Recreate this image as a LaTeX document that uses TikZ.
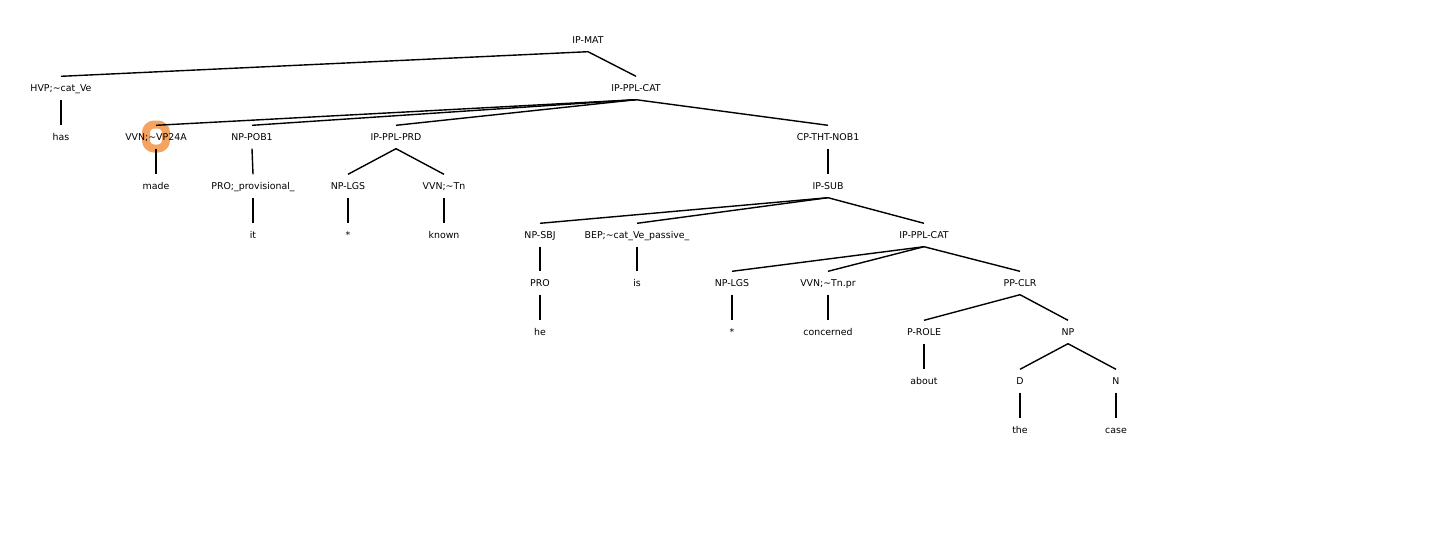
\documentclass[tikz,border=0pt]{standalone}
\usepackage{fontspec}
\setmainfont{DejaVu Sans}
\definecolor{hlorange}{RGB}{244,164,96}
\newcommand{\tl}{\textasciitilde}
\begin{document}
\begin{tikzpicture}[x=1pt, y=-1pt, line join=round,
	lab/.style={font=\fontsize{9.4}{11}\selectfont, inner sep=0pt, text height=8pt, text depth=1pt, minimum height=23pt},
	edge/.style={line width=1.4pt}]
	\useasboundingbox (0,0) rectangle (1440,549);
	% highlight behind the label
	\draw[line width=8pt, draw=hlorange, fill=white, rounded corners=8pt] (146,124.5) rectangle (166,148.5);
	% labels, row by row
	\node[lab] (mat) at (588,40) {IP-MAT};
	\node[lab] (hvp) at (61,88) {HVP;\tl cat\_Ve};
	\node[lab] (cat) at (636,88) {IP-PPL-CAT};
	\node[lab] (has) at (61,137) {has};
	\node[lab] (vvn) at (156,137) {VVN;\tl VP24A};
	\node[lab] (pob) at (252,137) {NP-POB1};
	\node[lab] (prd) at (396,137) {IP-PPL-PRD};
	\node[lab] (tht) at (828,137) {CP-THT-NOB1};
	\node[lab] (made) at (156,186) {made};
	\node[lab] (pro) at (253,186) {PRO;\_provisional\_};
	\node[lab] (lgs) at (348,186) {NP-LGS};
	\node[lab] (vtn) at (444,186) {VVN;\tl Tn};
	\node[lab] (sub) at (828,186) {IP-SUB};
	\node[lab] (it) at (253,235) {it};
	\node[lab] (star) at (348,235) {*};
	\node[lab] (known) at (444,235) {known};
	\node[lab] (sbj) at (540,235) {NP-SBJ};
	\node[lab] (bep) at (637,235) {BEP;\tl cat\_Ve\_passive\_};
	\node[lab] (cat2) at (924,235) {IP-PPL-CAT};
	\node[lab] (pro2) at (540,283) {PRO};
	\node[lab] (is) at (637,283) {is};
	\node[lab] (lgs2) at (732,283) {NP-LGS};
	\node[lab] (vtnpr) at (828,283) {VVN;\tl Tn.pr};
	\node[lab] (clr) at (1020,283) {PP-CLR};
	\node[lab] (he) at (540,332) {he};
	\node[lab] (star2) at (732,332) {*};
	\node[lab] (conc) at (828,332) {concerned};
	\node[lab] (role) at (924,332) {P-ROLE};
	\node[lab] (np) at (1068,332) {NP};
	\node[lab] (about) at (924,381) {about};
	\node[lab] (d) at (1020,381) {D};
	\node[lab] (n) at (1116,381) {N};
	\node[lab] (the) at (1020,430) {the};
	\node[lab] (case) at (1116,430) {case};
	% branches
	\foreach \p/\c in {mat/hvp, mat/cat, hvp/has, cat/vvn, cat/pob, cat/prd, cat/tht,
		vvn/made, pob/pro, prd/lgs, prd/vtn, tht/sub, pro/it, lgs/star, vtn/known,
		sub/sbj, sub/bep, sub/cat2, sbj/pro2, bep/is, cat2/lgs2, cat2/vtnpr, cat2/clr,
		pro2/he, lgs2/star2, vtnpr/conc, clr/role, clr/np, role/about, np/d, np/n,
		d/the, n/case}
		\draw[edge] (\p.south) -- (\c.north);
\end{tikzpicture}
\end{document}
